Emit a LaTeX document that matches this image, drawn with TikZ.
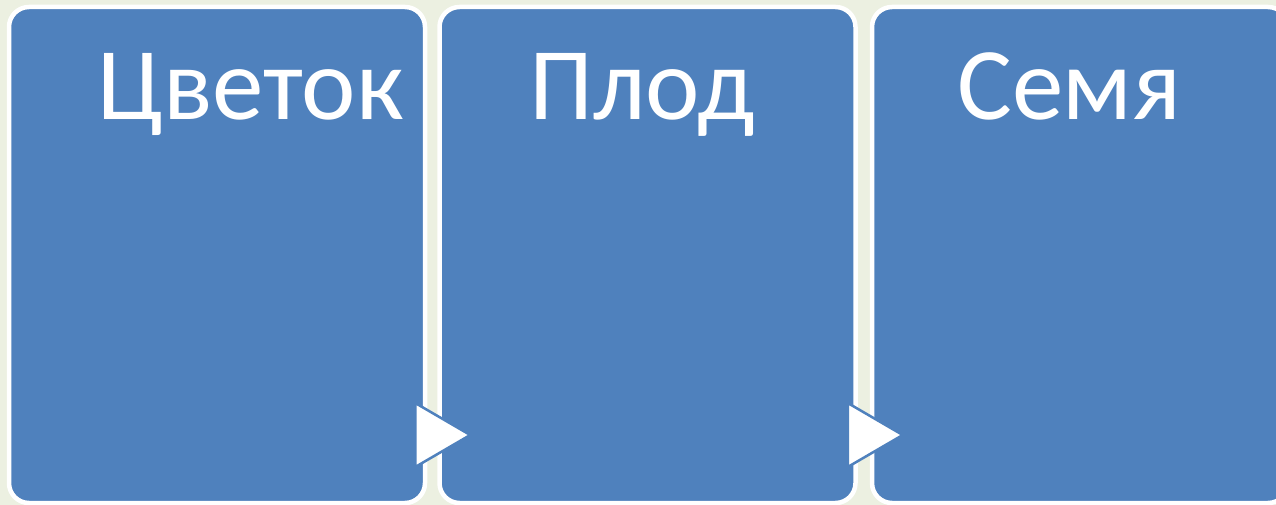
\documentclass[tikz,border=0pt]{standalone}
\usepackage{fontspec}
\setmainfont{Carlito}
\usetikzlibrary{calc}
\definecolor{bg}{RGB}{236,240,225}
\definecolor{boxblue}{RGB}{79,129,189}
\tikzset{
  box/.style={draw=white, fill=boxblue, line width=4.5pt, rounded corners=20pt,
    minimum width=416pt, minimum height=496pt, inner sep=0pt},
  lbl/.style={text=white, font=\fontsize{103}{115}\selectfont, anchor=base west, inner sep=0pt},
  tri/.style={fill=white, draw=boxblue, line width=2.5pt, line join=miter}
}
\begin{document}
\begin{tikzpicture}[x=1pt,y=-1pt]
\fill[bg] (0,0) rectangle (1276,505);
\useasboundingbox (0,0) rectangle (1276,505);
\begin{scope}
\clip (0,0) rectangle (1276,505);
\node[box] (b1) at (217,255) {};
\node[box] (b2) at (647.5,255) {};
\node[box] (b3) at (1080,255) {};
\node[lbl] (l1) at (97,120) {Цветок};
\node[lbl] (l2) at (529,120) {Плод};
\node[lbl] (l3) at (957,120) {Семя};
\draw[tri] ($(b1.east)+(-12,148)$) -- ($(b1.east)+(-12,212)$) -- ($(b1.east)+(43,180)$) -- cycle;
\draw[tri] ($(b2.east)+(-10,148)$) -- ($(b2.east)+(-10,212)$) -- ($(b2.east)+(45,180)$) -- cycle;
\end{scope}
\end{tikzpicture}
\end{document}
